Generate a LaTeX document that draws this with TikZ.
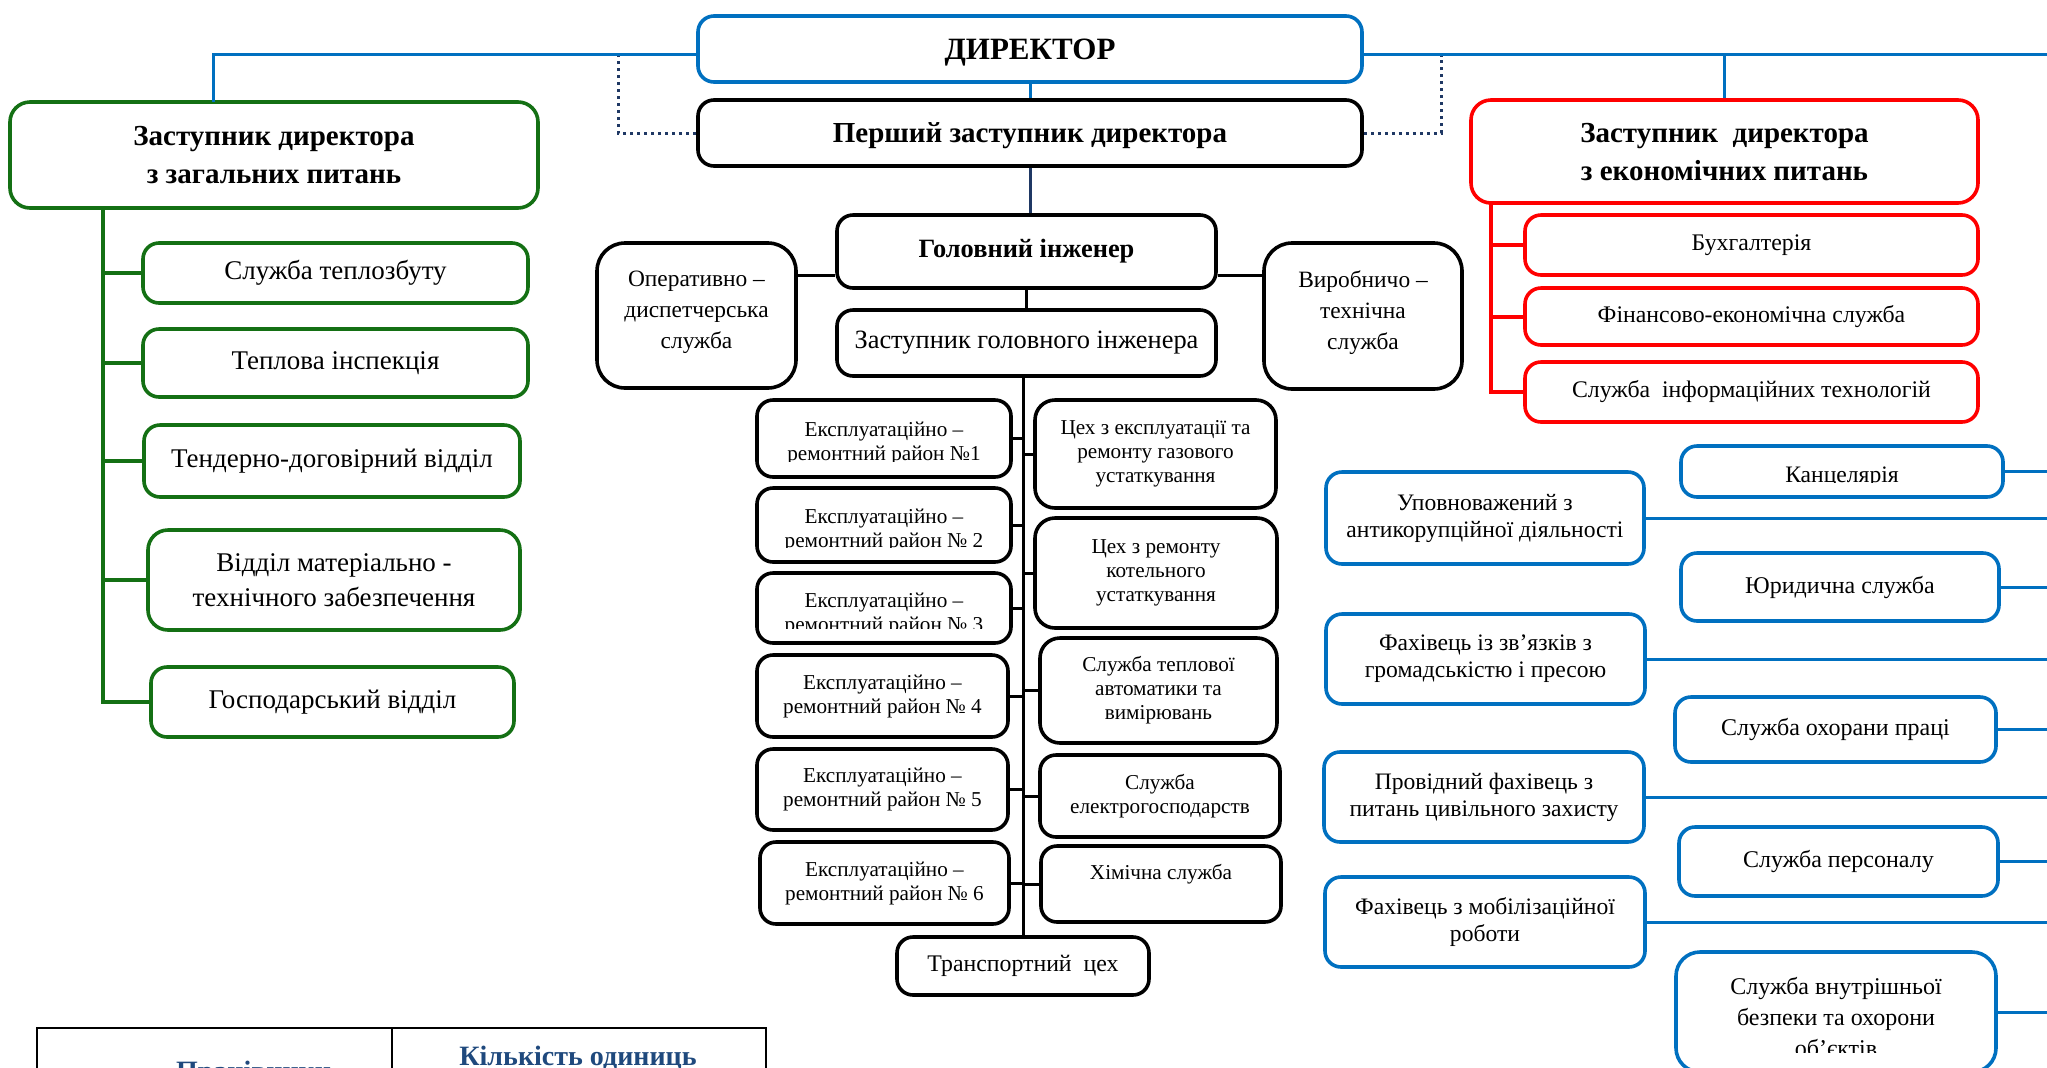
\documentclass[tikz,border=0pt]{standalone}
\usepackage{fontspec}
\setmainfont{Liberation Serif}
\usepackage{tikz}
\usetikzlibrary{calc}
\definecolor{orgblue}{RGB}{0,112,192}
\definecolor{orggreen}{RGB}{20,112,20}
\definecolor{orgred}{RGB}{255,0,0}
\definecolor{navy}{RGB}{31,56,100}
\definecolor{tblue}{RGB}{31,73,125}
\tikzset{
    sz/.style 2 args={minimum width=#1*0.5pt,minimum height=#2*0.5pt},
    orgbox/.style={rectangle,rounded corners=8pt,line width=1.8pt,fill=white,align=center,inner sep=0pt},
    gbox/.style={orgbox,draw=orggreen},
    rbox/.style={orgbox,draw=orgred},
    bbox/.style={orgbox,draw=orgblue},
    kbox/.style={orgbox,draw=black},
    bline/.style={draw=orgblue,line width=1.5pt},
    gline/.style={draw=orggreen,line width=2pt},
    rline/.style={draw=orgred,line width=2pt},
    kline/.style={draw=black,line width=1.5pt},
    nline/.style={draw=navy,line width=1.5pt},
    dotline/.style={draw=navy,line width=1.5pt,dotted},
    fdir/.style={font=\fontsize{15.5}{18}\selectfont\bfseries},
    fdep/.style={font=\fontsize{14.5}{19}\selectfont\bfseries},
    fgi/.style={font=\fontsize{13.2}{15}\selectfont\bfseries},
    fsub/.style={font=\fontsize{13.5}{17.5}\selectfont},
    fzgi/.style={font=\fontsize{13.2}{15}\selectfont},
    fop/.style={font=\fontsize{11.7}{15.5}\selectfont},
    fsm/.style={font=\fontsize{10.6}{12}\selectfont},
    fmid/.style={font=\fontsize{11.9}{14}\selectfont},
    fbl/.style={font=\fontsize{11.8}{13.5}\selectfont},
    fbr/.style={font=\fontsize{12}{15.5}\selectfont},
    ftab/.style={font=\fontsize{14}{16}\selectfont\bfseries,text=tblue}
}

\begin{document}
\begin{tikzpicture}[x=0.5pt,y=-0.5pt]
    %% \draw[help lines] (0,0) grid (2047,1067);
    \useasboundingbox (0,0) rectangle (2047,1067);

    %% top level
    \coordinate (topl) at (0,54);
    \coordinate (gtop) at (213,102);
    \coordinate (dl) at (618,56);
    \coordinate (dr) at (1441,56);
    \coordinate (redge) at (2047,0);
    \node[bbox,fdir,text depth=0pt,sz={664}{66}] (dir) at (1030,49) {ДИРЕКТОР};
    \node[kbox,fdep,text depth=0pt,sz={664}{66}] (pz) at (1030,133) {Перший заступник директора};
    \node[gbox,fdep,rounded corners=10pt,sz={528}{106}] (gdep) at (274,155) {Заступник директора\\з загальних питань};
    \node[rbox,fdep,rounded corners=10pt,text depth=0pt,sz={507}{103}] (econ) at (1724.5,151.5) {Заступник\ \ директора\\з економічних питань};
    \draw[bline] (dir.west |- topl) -| (gtop);
    \draw[bline] (dir.east |- topl) -- (redge |- topl);
    \draw[bline] (econ.north) -- (econ.north |- topl);
    \draw[bline] (dir.south) -- (pz.north);
    \draw[dotline] (pz.west) -| (dl);
    \draw[dotline] (pz.east) -| (dr);

    %% general questions
    \coordinate (gtrunk) at (103,208);
    \node[gbox,fsub,sz={385}{60}] (teplo) at (335.5,273) {Служба теплозбуту};
    \node[gbox,fsub,sz={385}{68}] (insp) at (335.5,363) {Теплова інспекція};
    \node[gbox,fsub,sz={376}{72}] (tend) at (332,461) {Тендерно-договірний відділ};
    \node[gbox,fsub,rounded corners=10pt,sz={372}{100}] (mtz) at (334,580) {Відділ матеріально -\\технічного забезпечення};
    \node[gbox,fsub,sz={363}{70}] (gosp) at (332.5,702) {Господарський відділ};
    \draw[gline] (gtrunk) |- (teplo.west);
    \draw[gline] (gtrunk) |- (insp.west);
    \draw[gline] (gtrunk) |- (tend.west);
    \draw[gline] (gtrunk) |- (mtz.west);
    \draw[gline] (gtrunk) |- (gosp.west);

    %% chief engineer
    \coordinate (gimid) at (1026.5,275);
    \coordinate (ctrunk) at (1023,376);
    \node[kbox,fgi,sz={379}{73}] (gi) at (1026.5,251.5) {Головний інженер};
    \node[kbox,fzgi,sz={379}{66}] (zgi) at (1026.5,343) {Заступник головного інженера};
    \node[kbox,fop,rounded corners=14pt,text depth=6pt,sz={199}{145}] (op) at (696.5,315.5) {Оперативно –\\диспетчерська\\служба};
    \node[kbox,fop,rounded corners=14pt,text depth=6pt,sz={198}{146}] (vyr) at (1363,316) {Виробничо –\\технічна\\служба};
    \draw[nline] (pz.south) -- (pz.south |- gi.north);
    \draw[kline] (gi.south) -- (zgi.north);
    \draw[kline] (op.east |- gimid) -- (gi.west |- gimid);
    \draw[kline] (gi.east |- gimid) -- (vyr.west |- gimid);

    \node[kbox,fmid,sz={252}{58}] (trans) at (1023,966) {Транспортний\ \ цех};
    \draw[kline] (ctrunk) -- (ctrunk |- trans.north);

    %% districts
    \node[kbox,sz={254}{77}] (er1) at (884,438.5) {};
    \begin{scope}
      \clip (757,400) rectangle (1011,461);
      \node[fsm,align=center] (er1t) at ([yshift=-2.5pt]er1.center) {Експлуатаційно –\\ремонтний район №1};
    \end{scope}
    \node[kbox,sz={254}{74}] (er2) at (884,525) {};
    \begin{scope}
      \clip (757,488) rectangle (1011,547);
      \node[fsm,align=center] (er2t) at ([yshift=-2.5pt]er2.center) {Експлуатаційно –\\ремонтний район № 2};
    \end{scope}
    \node[kbox,sz={254}{70}] (er3) at (884,608) {};
    \begin{scope}
      \clip (757,573) rectangle (1011,628);
      \node[fsm,align=center] (er3t) at ([yshift=-3pt]er3.center) {Експлуатаційно –\\ремонтний район № 3};
    \end{scope}
    \node[kbox,fsm,sz={251}{82}] (er4) at (882.5,696) {Експлуатаційно –\\ремонтний район № 4};
    \node[kbox,fsm,sz={251}{81}] (er5) at (882.5,789.5) {Експлуатаційно –\\ремонтний район № 5};
    \node[kbox,fsm,sz={249}{82}] (er6) at (884.5,883) {Експлуатаційно –\\ремонтний район № 6};
    \draw[kline] (er1.east) -- (er1.east -| ctrunk);
    \draw[kline] (er2.east) -- (er2.east -| ctrunk);
    \draw[kline] (er3.east) -- (er3.east -| ctrunk);
    \draw[kline] (er4.east) -- (er4.east -| ctrunk);
    \draw[kline] (er5.east) -- (er5.east -| ctrunk);
    \draw[kline] (er6.east) -- (er6.east -| ctrunk);

    %% workshops
    \node[kbox,fsm,rounded corners=10pt,sz={241}{108}] (cex1) at (1155.5,454) {Цех з експлуатації та\\ремонту газового\\устаткування};
    \node[kbox,fsm,rounded corners=10pt,sz={242}{110}] (cex2) at (1156,573) {Цех з ремонту\\котельного\\устаткування};
    \node[kbox,fsm,rounded corners=10pt,sz={237}{105}] (avt) at (1158.5,690.5) {Служба теплової\\автоматики та\\вимірювань};
    \node[kbox,fsm,sz={240}{82}] (el) at (1160,796) {Служба\\електрогосподарств};
    \node[kbox,fsm,text depth=12pt,sz={240}{76}] (him) at (1161,884) {Хімічна служба};
    \draw[kline] (cex1.west) -- (cex1.west -| ctrunk);
    \draw[kline] (cex2.west) -- (cex2.west -| ctrunk);
    \draw[kline] (avt.west) -- (avt.west -| ctrunk);
    \draw[kline] (el.west) -- (el.west -| ctrunk);
    \draw[kline] (him.west) -- (him.west -| ctrunk);

    %% economic questions
    \coordinate (rtrunk) at (1491,203);
    \node[rbox,fmid,sz={453}{60}] (buh) at (1751.5,245) {Бухгалтерія};
    \node[rbox,fmid,sz={453}{57}] (fin) at (1751.5,316.5) {Фінансово-економічна служба};
    \node[rbox,fmid,sz={453}{60}] (it) at (1751.5,392) {Служба\ \ інформаційних технологій};
    \draw[rline] (rtrunk) |- (buh.west);
    \draw[rline] (rtrunk) |- (fin.west);
    \draw[rline] (rtrunk) |- (it.west);

    %% services under director
    \node[bbox,sz={322}{51}] (kanc) at (1842,471.5) {};
    \begin{scope}
      \clip (1681,446) rectangle (2003,482);
      \node[fbl] (kanct) at ([yshift=-3pt]kanc.center) {Канцелярія};
    \end{scope}
    \node[bbox,fbl,sz={318}{92}] (upov) at (1485,518) {Уповноважений з\\антикорупційної діяльності};
    \node[bbox,fbr,sz={318}{68}] (yur) at (1840,587) {Юридична служба};
    \node[bbox,fbl,sz={319}{90}] (fah) at (1485.5,659) {Фахівець із зв’язків з\\громадськістю і пресою};
    \node[bbox,fbr,sz={321}{65}] (ohor) at (1835.5,729.5) {Служба охорани праці};
    \node[bbox,fbl,sz={320}{90}] (prov) at (1484,797) {Провідний фахівець з\\питань цивільного захисту};
    \node[bbox,fbr,sz={319}{69}] (pers) at (1838.5,861.5) {Служба персоналу};
    \node[bbox,fbl,sz={320}{90}] (mob) at (1485,922) {Фахівець з мобілізаційної\\роботи};
    \node[bbox,rounded corners=12pt,sz={320}{120}] (vnut) at (1836,1012) {};
    \begin{scope}
      \clip (1676,952) rectangle (1996,1052);
      \node[fbr,align=center] (vnutt) at ([yshift=-2.5pt]vnut.center) {Служба внутрішньої\\безпеки та охорони\\об’єктів};
    \end{scope}
    \draw[bline] (kanc.east) -- (kanc.east -| redge);
    \draw[bline] (upov.east) -- (upov.east -| redge);
    \draw[bline] (yur.east) -- (yur.east -| redge);
    \draw[bline] (fah.east) -- (fah.east -| redge);
    \draw[bline] (ohor.east) -- (ohor.east -| redge);
    \draw[bline] (prov.east) -- (prov.east -| redge);
    \draw[bline] (pers.east) -- (pers.east -| redge);
    \draw[bline] (mob.east) -- (mob.east -| redge);
    \draw[bline] (vnut.east) -- (vnut.east -| redge);

    %% table below
    \node[draw,line width=1.2pt,inner sep=0pt,anchor=north west,sz={355}{100}] (cell1) at (36,1027) {};
    \node[draw,line width=1.2pt,inner sep=0pt,anchor=north west,sz={374}{100}] (cell2) at (391,1027) {};
    \node[ftab,anchor=base] (kilk) at (578,1065) {Кількість одиниць};
    \node[ftab,anchor=base west] (prac) at (169,1080) {Працівники};
\end{tikzpicture}
\end{document}
